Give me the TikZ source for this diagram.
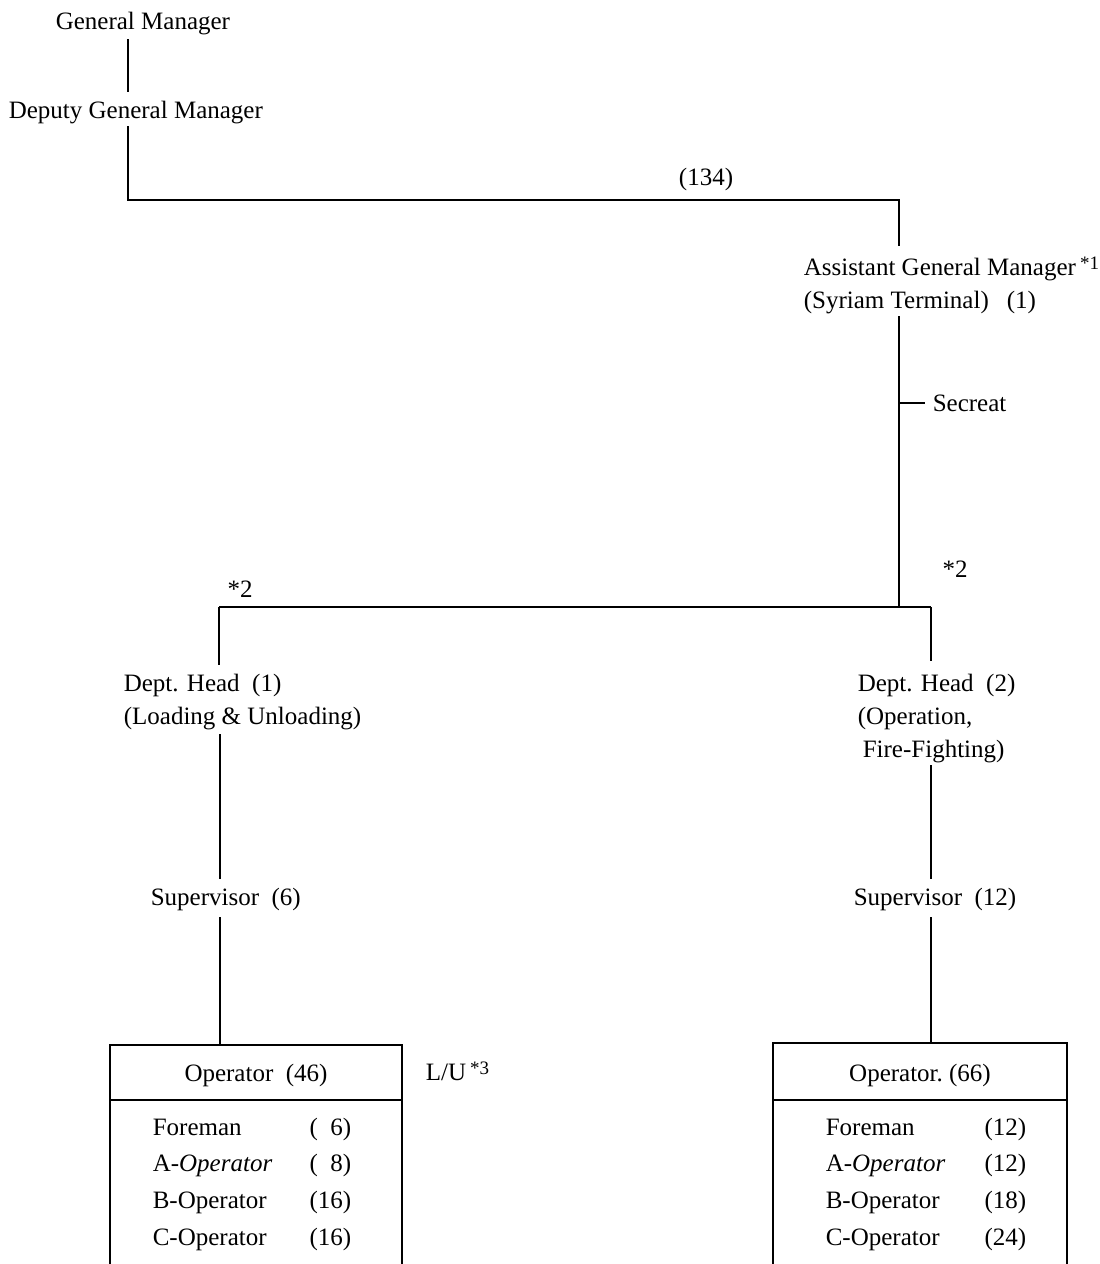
\documentclass[tikz,border=0pt]{standalone}
\usepackage{fontspec}
\setmainfont{Liberation Serif}
\begin{document}
\begin{tikzpicture}[x=0.5pt,y=-0.5pt,
  line width=0.8pt,
  lbl/.style={inner sep=0pt, anchor=base west, font=\fontsize{12.5}{14}\selectfont},
  num/.style={inner sep=0pt, anchor=base east, font=\fontsize{12.5}{14}\selectfont},
  ctr/.style={inner sep=0pt, anchor=base, font=\fontsize{12.5}{14}\selectfont},
  link/.style={line width=0.9pt},
  boxline/.style={line width=0.8pt}]
\useasboundingbox (0,0) rectangle (1099,1264);

% junction coordinates
\coordinate (j1) at (128,200);
\coordinate (j2) at (899,200);
\coordinate (j3) at (899,607);
\coordinate (jL) at (219,607);
\coordinate (jR) at (931,607);
\coordinate (xL) at (220,0);

% top part
\node[lbl] (gm) at (55,29) {General Manager};
\node[lbl] (dgm) at (8,118) {Deputy General Manager};
\node[ctr] (n134) at (706,185) {(134)};
\node[lbl] (agm) at (803,275) {Assistant General Manager\,\raisebox{0.5ex}{\fontsize{9.5}{10}\selectfont *1}};
\node[lbl] (agm2) at (803,308) {(Syriam Terminal)\hspace{9pt}(1)};
\node[lbl] (sec) at (932,411) {Secreat};
\node[ctr] (st2a) at (240,597) {*2};
\node[ctr] (st2b) at (955,577) {*2};

% departments
\node[lbl] (dh1) at (123,691) {Dept. Head\ \ (1)};
\node[lbl] (dh1b) at (123,724) {(Loading \& Unloading)};
\node[lbl] (dh2) at (857,691) {Dept. Head\ \ (2)};
\node[lbl] (dh2b) at (857,724) {(Operation,};
\node[lbl] (dh2c) at (862,757) {Fire-Fighting)};

\node[lbl] (sup1) at (150,905) {Supervisor\ \ (6)};
\node[lbl] (sup2) at (853,905) {Supervisor\ \ (12)};

% boxes
\coordinate (b1tl) at (110,1045);
\coordinate (b1tr) at (402,1045);
\coordinate (b1t) at (220,1045);
\coordinate (b2tl) at (773,1043);
\coordinate (b2tr) at (1067,1043);
\coordinate (b2t) at (931,1043);

\draw[boxline] (110,1264) -- (b1tl) -- (b1tr) -- (402,1264);
\draw[boxline] (110,1100) -- (402,1100);
\draw[boxline] (773,1264) -- (b2tl) -- (b2tr) -- (1067,1264);
\draw[boxline] (773,1100) -- (1067,1100);

\node[ctr] (op1) at (256,1081) {Operator\ \ (46)};
\node[lbl] (lu) at (425,1080) {L/U\,\raisebox{0.5ex}{\fontsize{9.5}{10}\selectfont *3}};
\node[ctr] (op2) at (920,1081) {Operator.\ (66)};

\node[lbl] (f1) at (152,1135) {Foreman};
\node[num] (f1n) at (352,1135) {(\phantom{1}6)};
\node[lbl] (a1) at (152,1171) {A-\textit{Operator}};
\node[num] (a1n) at (352,1171) {(\phantom{1}8)};
\node[lbl] (bb1) at (152,1208) {B-Operator};
\node[num] (bb1n) at (352,1208) {(16)};
\node[lbl] (c1) at (152,1245) {C-Operator};
\node[num] (c1n) at (352,1245) {(16)};

\node[lbl] (f2) at (825,1135) {Foreman};
\node[num] (f2n) at (1027,1135) {(12)};
\node[lbl] (a2) at (825,1171) {A-\textit{Operator}};
\node[num] (a2n) at (1027,1171) {(12)};
\node[lbl] (bb2) at (825,1208) {B-Operator};
\node[num] (bb2n) at (1027,1208) {(18)};
\node[lbl] (c2) at (825,1245) {C-Operator};
\node[num] (c2n) at (1027,1245) {(24)};

% connectors
\draw[link] ([yshift=-2pt]gm.south -| j1) -- ([yshift=4pt]dgm.north -| j1);
\draw[link] ([yshift=-1pt]dgm.south -| j1) -- (j1) -- (j2) -- ([yshift=5pt]agm.north -| j2);
\draw[link] ([yshift=-1pt]agm2.south -| j2) -- (j3);
\draw[link] (sec.west -| j2) -- ([xshift=-3.5pt]sec.west);
\draw[link] (jL) -- (jR);
\draw[link] (jL) -- ([yshift=4pt]dh1.north -| jL);
\draw[link] (jR) -- ([yshift=6pt]dh2.north -| jR);
\draw[link] ([yshift=-2pt]dh1b.south -| xL) -- ([yshift=4pt]sup1.north -| xL);
\draw[link] ([yshift=-1pt]dh2c.south -| jR) -- ([yshift=4pt]sup2.north -| jR);
\draw[link] ([yshift=-3pt]sup1.south -| xL) -- (b1t);
\draw[link] ([yshift=-3pt]sup2.south -| jR) -- (b2t);
\end{tikzpicture}
\end{document}
